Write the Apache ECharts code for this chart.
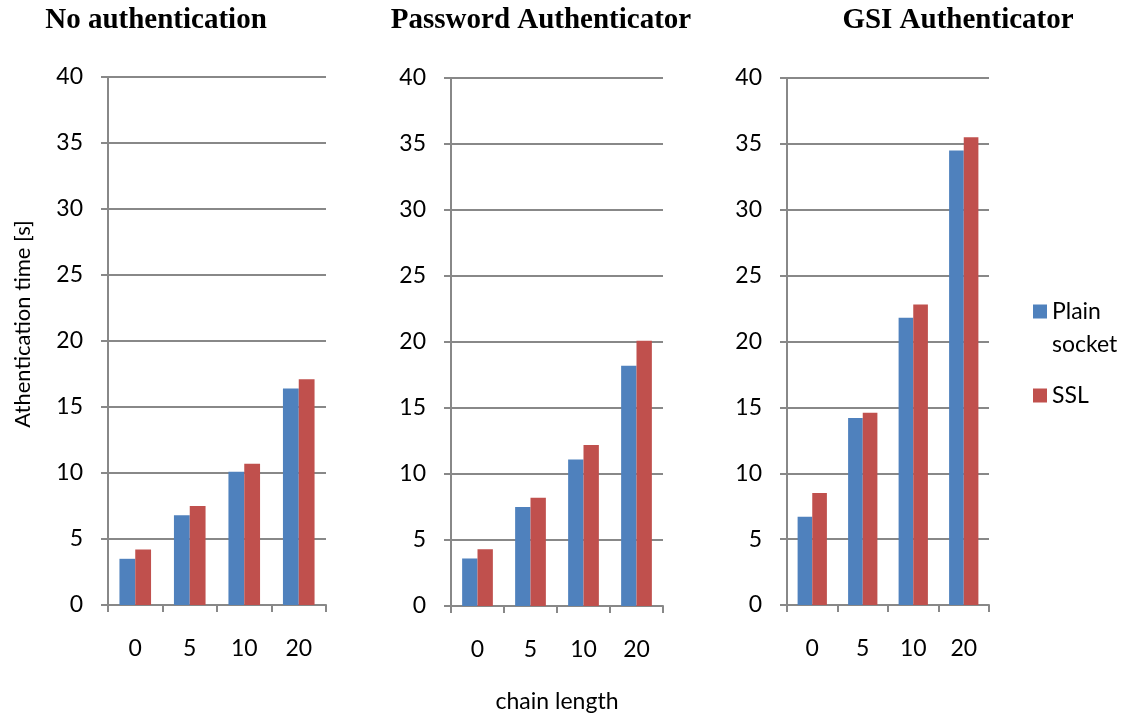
<!DOCTYPE html>
<html>
<head>
<meta charset="utf-8">
<script src="https://cdn.jsdelivr.net/npm/echarts@6/dist/echarts.min.js"></script>
<style>
  html, body { margin: 0; padding: 0; background: #fff; }
  #chart { width: 1129px; height: 718px; }
</style>
</head>
<body>
<div id="chart"></div>
<script>
// Chain lengths on the x axis
const categories = ['0', '5', '10', '20'];

// Authentication time in seconds, per authenticator
const noAuthPlain = [3.5, 6.8, 10.1, 16.4];
const noAuthSSL   = [4.2, 7.5, 10.7, 17.1];
const pwdPlain    = [3.6, 7.5, 11.1, 18.2];
const pwdSSL      = [4.3, 8.2, 12.2, 20.1];
const gsiPlain    = [6.7, 14.2, 21.8, 34.5];
const gsiSSL      = [8.5, 14.6, 22.8, 35.5];

const panelTitles = ['No authentication', 'Password Authenticator', 'GSI Authenticator'];
const seriesNames = ['Plain socket', 'SSL'];

const BLUE = '#4F81BD';
const RED = '#C0504D';
const GRAY = '#888888';
const FONT = 'Lato';
const FS = 23;

const grids = [
  { left: 108, top: 77, width: 218, height: 528 },
  { left: 451, top: 78, width: 212, height: 530 },
  { left: 787, top: 78, width: 202, height: 527 }
];
const titleCenters = [156, 541, 958];
const panelData = [
  [noAuthPlain, noAuthSSL],
  [pwdPlain, pwdSSL],
  [gsiPlain, gsiSSL]
];

const xAxes = grids.map((g, i) => ({
  type: 'category',
  gridIndex: i,
  data: categories,
  axisLine: { lineStyle: { color: GRAY, width: 2 } },
  axisTick: { show: true, length: 7, lineStyle: { color: GRAY, width: 2 } },
  axisLabel: { color: '#000', fontFamily: FONT, fontSize: FS, margin: 32 },
  name: i === 1 ? 'chain length' : '',
  nameLocation: 'middle',
  nameGap: 84,
  nameTextStyle: { color: '#000', fontFamily: FONT, fontSize: FS }
}));

const yAxes = grids.map((g, i) => ({
  type: 'value',
  gridIndex: i,
  min: 0,
  max: 40,
  interval: 5,
  axisLine: { show: true, lineStyle: { color: GRAY, width: 2 } },
  axisTick: { show: true, length: 7, lineStyle: { color: GRAY, width: 2 } },
  splitLine: { show: true, lineStyle: { color: GRAY, width: 2 } },
  axisLabel: { color: '#000', fontFamily: FONT, fontSize: FS, margin: 25 },
  name: i === 0 ? 'Athentication time [s]' : '',
  nameLocation: 'middle',
  nameGap: 74,
  // left padding lifts the rotated title a little above the grid's middle
  nameTextStyle: { color: '#000', fontFamily: FONT, fontSize: 22, padding: [0, 0, 0, 34] }
}));

const series = [];
panelData.forEach((pair, i) => {
  pair.forEach((values, k) => {
    series.push({
      type: 'bar',
      name: seriesNames[k],
      xAxisIndex: i,
      yAxisIndex: i,
      data: values,
      barGap: '0%',
      barCategoryGap: '42%',
      itemStyle: { color: k === 0 ? BLUE : RED },
      emphasis: { disabled: true }
    });
  });
});

const option = {
  animation: false,
  backgroundColor: '#fff',
  title: panelTitles.map((t, i) => ({
    text: t,
    left: titleCenters[i],
    top: 6,
    padding: 0,
    textAlign: 'center',
    textStyle: { fontFamily: 'Liberation Serif', fontWeight: 'bold', fontSize: 29, color: '#000' }
  })),
  legend: [
    {
      // blank first line keeps "Plain" level with the swatch
      data: [seriesNames[0]],
      orient: 'vertical',
      left: 1033,
      top: 262,
      padding: 0,
      itemWidth: 14,
      itemHeight: 14,
      icon: 'rect',
      formatter: () => ' \nPlain\nsocket',
      textStyle: { fontFamily: FONT, fontSize: FS, color: '#000', lineHeight: 33 }
    },
    {
      data: [seriesNames[1]],
      orient: 'vertical',
      left: 1033,
      top: 384,
      padding: 0,
      itemWidth: 14,
      itemHeight: 14,
      icon: 'rect',
      textStyle: { fontFamily: FONT, fontSize: FS, color: '#000', lineHeight: 22 }
    }
  ],
  grid: grids,
  xAxis: xAxes,
  yAxis: yAxes,
  series: series
};

const chart = echarts.init(document.getElementById('chart'), null, { renderer: 'canvas' });
chart.setOption(option);
</script>
</body>
</html>
